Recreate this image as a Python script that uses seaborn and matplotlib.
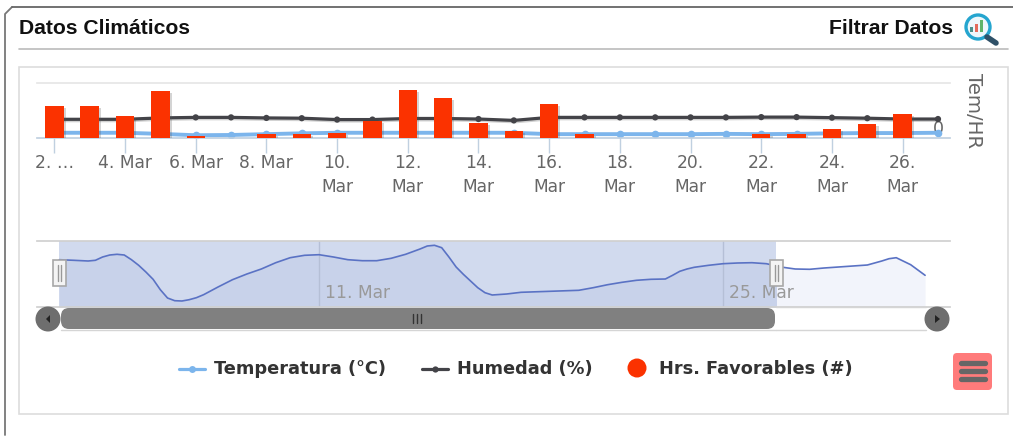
import matplotlib
matplotlib.use("Agg")
import matplotlib.pyplot as plt
import matplotlib.patheffects as pe
from matplotlib.patches import Circle, FancyBboxPatch, Polygon, Rectangle
import pandas as pd
import seaborn as sns

# daily series, March
days = list(range(2, 28))
horas = [14, 14, 9.6, 20.4, 1, 0, 1.8, 1.8, 2.3, 7.5, 21, 17.5, 6.7, 3, 14.7, 1.8, 0, 0, 0, 0, 1.8, 1.8, 3.8, 6, 10.3, 0]
humedad = [68, 68, 68, 73, 75, 75, 73, 72, 67, 67, 71, 71, 69, 64, 75, 75, 75, 75, 75, 75, 76, 76, 74, 72, 69, 69]
temperatura = [19, 19, 19, 15, 10, 11, 14, 17, 19, 19, 19, 19, 19, 19, 14, 14, 14, 14, 14, 15, 14, 15, 17, 18, 18, 19]

tick_days = list(range(2, 27, 2))
tick_labels = ["2. …", "4. Mar", "6. Mar", "8. Mar", "10.\nMar", "12.\nMar", "14.\nMar", "16.\nMar",
               "18.\nMar", "20.\nMar", "22.\nMar", "24.\nMar", "26.\nMar"]

# navigator series
nav_days = [2, 2.5, 3, 3.25, 3.5, 3.75, 4, 4.25, 4.5, 4.75, 5, 5.25, 5.5, 5.75, 6, 6.25, 6.5, 6.75, 7, 7.5, 8, 8.5,
            9, 9.5, 10, 10.5, 11, 11.5, 12, 12.5, 13, 13.5, 14, 14.5, 14.75, 15, 15.25, 15.5, 15.75, 16, 16.5,
            16.75, 17, 17.5, 18, 19, 20, 20.5, 21, 21.5, 22, 22.5, 23, 23.25, 23.5, 23.75, 24, 24.5, 25, 25.5,
            26, 26.5, 26.75, 27, 27.5, 28, 28.5, 29, 29.5, 30, 30.5, 30.75, 31, 31.5, 32]
nav_vals = [47.3, 46.7, 46, 46.7, 50, 52, 52.7, 52, 47.3, 41.7, 35, 27.7, 17.3, 9, 6.3, 6, 7.3, 9.3, 12.3, 20, 27.3, 33,
            38, 44.3, 49.3, 51.7, 52.3, 50, 47.3, 46.3, 46.3, 48.7, 52.7, 58, 61, 61.7, 59.3, 50, 40, 32.7, 19.3,
            14.3, 12, 13, 14.7, 15.7, 16.7, 19.3, 22.3, 24.7, 26.7, 27.7, 28, 31.7, 35.7, 38, 39.7, 41.7, 43.3, 44,
            44.3, 43.3, 41.7, 40, 38, 37.7, 39, 40, 41, 42, 46, 48.3, 49.3, 42.3, 31.7]
nav_ticks = [11, 25]
nav_tick_labels = ["11. Mar", "25. Mar"]

df = pd.DataFrame({"dia": days, "horas": horas, "humedad": humedad, "temperatura": temperatura})
nav = pd.DataFrame({"dia": nav_days, "valor": nav_vals})

W, H = 1013, 436
sns.set_theme(style="white")
plt.rcParams["font.family"] = "DejaVu Sans"
fig = plt.figure(figsize=(W / 100, H / 100), dpi=100)


def px_axes(x0, y0, x1, y1, **kw):
    return fig.add_axes([x0 / W, 1 - y1 / H, (x1 - x0) / W, (y1 - y0) / H], **kw)


# main chart
ax = px_axes(37, 83, 950, 138)
shadow = [pe.SimplePatchShadow(offset=(1.5, -1.5), shadow_rgbFace="#555555", alpha=0.25), pe.Normal()]
sns.barplot(data=df, x="dia", y="horas", color="#fb3200", saturation=1, native_scale=True, width=0.52,
            linewidth=0, ax=ax, zorder=4)
for bar in ax.patches:
    bar.set_path_effects(shadow)
ax.set_xlim(1.51, 27.34)
ax.set_ylim(0, 24)
ax.set_xticks(tick_days)
ax.set_xticklabels(tick_labels, color="#666666", fontsize=12.3, linespacing=1.4)
ax.tick_params(axis="x", length=11, width=1, color="#c0d0e0", pad=0.5, bottom=True)
ax.set_yticks([])
ax.set_xlabel("")
ax.set_ylabel("")
sns.despine(ax=ax, left=True, right=True, top=False)
ax.spines["top"].set_color("#e6e6e6")
ax.spines["bottom"].set_color("#c0d0e0")
ax.patch.set_alpha(0)

ax2 = ax.twinx()
line_shadow = [pe.SimpleLineShadow(offset=(1, -1), alpha=0.2), pe.Normal()]
sns.lineplot(data=df, x="dia", y="temperatura", color="#7cb5ec", linewidth=2.8, marker="o", markersize=5.5,
             markeredgewidth=0, ax=ax2, zorder=2)
sns.lineplot(data=df, x="dia", y="humedad", color="#434348", linewidth=2.3, marker="o", markersize=4.5,
             markeredgewidth=0, ax=ax2, zorder=3, path_effects=line_shadow)
ax2.set_xlim(1.51, 27.34)
ax2.set_ylim(0, 200)
ax2.set_yticks([0])
ax2.set_yticklabels(["0"], color="#666666", fontsize=12.5, va="bottom")
ax2.tick_params(axis="y", length=0, pad=-12, right=True, labelright=True)
ax2.set_ylabel("")
ax2.set_xlabel("")
for s in ax2.spines.values():
    s.set_visible(False)
ax.set_zorder(ax2.get_zorder() + 1)

# navigator
nx = px_axes(37, 241, 950, 307)
x_to_day = lambda p: 2 + (p - 59.3) / 28.86
nx.set_xlim(x_to_day(37), x_to_day(950))
nx.set_ylim(0, 66)
sel_end = 26.85
nx.fill_between(nav_days, nav_vals, 0, color="#f2f4fb", lw=0, zorder=1)
nx.axvspan(2, sel_end, color="#d1daee", lw=0, zorder=1.5)
sel_x = [d for d in nav_days if d <= 26.75] + [sel_end]
sel_y = [v for d, v in zip(nav_days, nav_vals) if d <= 26.75] + [41]
nx.fill_between(sel_x, sel_y, 0, color="#c8d2ea", lw=0, zorder=1.6)
sns.lineplot(data=nav, x="dia", y="valor", color="#5a72c4", linewidth=1.2, ax=nx, zorder=3)
nx.set_xlabel("")
nx.set_ylabel("")
nx.set_xticks([])
nx.set_yticks([])
for s in ["left", "right"]:
    nx.spines[s].set_visible(False)
nx.spines["top"].set_color("#d0d0d0")
nx.spines["bottom"].set_color("#d0d0d0")
for d, lab in zip(nav_ticks, nav_tick_labels):
    nx.axvline(d, color="#b5bfd6", lw=1, zorder=2)
    nx.text(d + 0.2, 14, lab, color="#999999", fontsize=12.3, va="center", ha="left", zorder=4)

# page chrome in pixel coordinates
ov = fig.add_axes([0, 0, 1, 1], zorder=10)
ov.set_xlim(0, W)
ov.set_ylim(H, 0)
ov.axis("off")
ov.patch.set_alpha(0)

ov.plot([5, 5, 12], [435, 14, 7], color="#777777", lw=1.3, solid_joinstyle="round")
ov.plot([12, W], [7, 7], color="#666666", lw=1.3)
ov.plot([19, 1008], [49, 49], color="#bbbbbb", lw=1.2)
ov.add_patch(Rectangle((19, 67), 989, 347, fc="none", ec="#dddddd", lw=1.2))

title = {"family": "Liberation Sans", "weight": "bold", "fontsize": 15.2, "color": "#111111", "va": "center"}
ov.text(19, 28, "Datos Climáticos", **title)
ov.text(953, 28, "Filtrar Datos", ha="right", **title)
ov.text(973, 111, "Tem/HR", rotation=270, color="#666666", fontsize=14.2, ha="center", va="center")

# magnifier icon
ov.plot([987, 996], [37, 43], color="#2f5168", lw=4, solid_capstyle="round")
ov.add_patch(Circle((978, 27), 12, fc="#eef7fb", ec="#25a5cf", lw=2.4))
for bx, bh, c in [(969.5, 5, "#4d8f8a"), (974.5, 8, "#e46a5a"), (979.5, 12, "#5fb46a")]:
    ov.add_patch(Rectangle((bx, 32 - bh), 3.5, bh, fc=c, ec="none"))

# scrollbar
ov.plot([776, 926], [307, 307], color="#d5d5d5", lw=1)
ov.plot([776, 926], [330, 330], color="#d5d5d5", lw=1)
ov.plot([61, 776], [330, 330], color="#d5d5d5", lw=1)
ov.add_patch(FancyBboxPatch((61, 308), 714, 21, boxstyle="round,pad=0,rounding_size=8", fc="#808080", ec="none"))
for gx in [413, 417, 421]:
    ov.plot([gx, gx], [314, 323], color="#333333", lw=1)
ov.add_patch(Circle((48, 319), 12.5, fc="#6e6e6e", ec="none"))
ov.add_patch(Circle((937, 319), 12.5, fc="#6e6e6e", ec="none"))
ov.add_patch(Polygon([[50, 315], [50, 323], [46, 319]], fc="#222222", ec="none"))
ov.add_patch(Polygon([[935, 315], [935, 323], [940, 319]], fc="#222222", ec="none"))

# navigator handles
for hx in [59.3, 776]:
    ov.add_patch(Rectangle((hx - 6.5, 260), 13, 26, fc="#f4f4f4", ec="#a8a8a8", lw=1.2))
    ov.plot([hx - 1.5, hx - 1.5], [265, 281], color="#999999", lw=1)
    ov.plot([hx + 1.5, hx + 1.5], [265, 281], color="#999999", lw=1)

# legend
leg = {"family": "DejaVu Sans", "weight": "bold", "fontsize": 12.8, "color": "#333333", "va": "center"}
ov.plot([179, 205], [369, 369], color="#7cb5ec", lw=2.3)
ov.plot([192], [369], "o", color="#7cb5ec", ms=5, mew=0)
ov.text(214, 369, "Temperatura (°C)", **leg)
ov.plot([422, 448], [369, 369], color="#434348", lw=2.3)
ov.plot([435], [369], "o", color="#434348", ms=4.5, mew=0)
ov.text(457, 369, "Humedad (%)", **leg)
ov.add_patch(Circle((637, 368), 9.5, fc="#fb3200", ec="none"))
ov.text(659, 369, "Hrs. Favorables (#)", **leg)

# menu button
ov.add_patch(FancyBboxPatch((953, 353), 39, 37, boxstyle="round,pad=0,rounding_size=4", fc="#ff7b7b", ec="none"))
for by in [363, 371, 379]:
    ov.plot([961, 985], [by, by], color="#666666", lw=3.8, solid_capstyle="round")

fig.savefig("out.png", dpi=100)
